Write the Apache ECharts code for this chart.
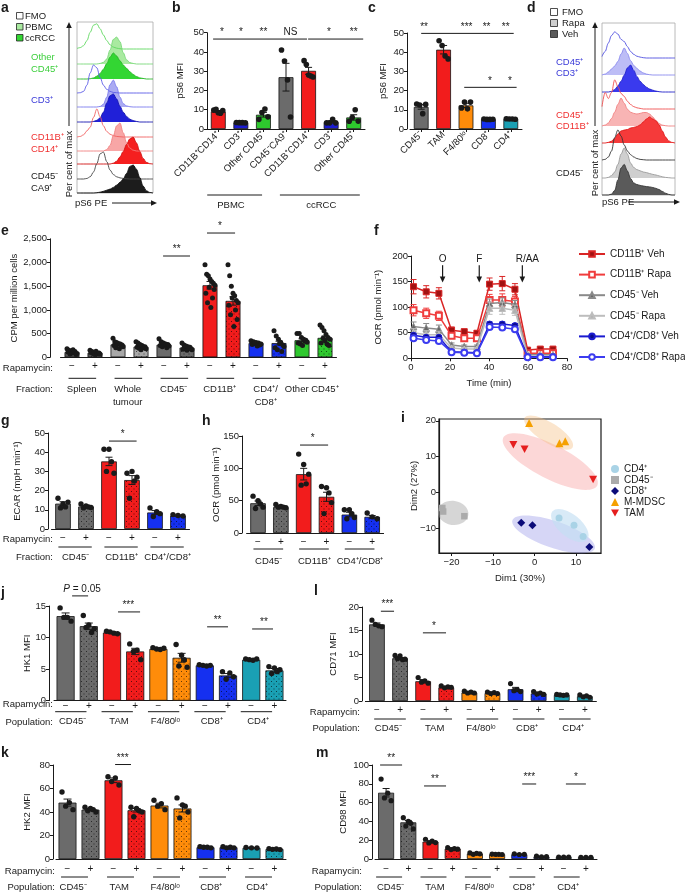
<!DOCTYPE html>
<html><head><meta charset="utf-8"><title>Figure</title>
<script src="https://cdn.jsdelivr.net/npm/echarts@6.0.0/dist/echarts.min.js"></script>
<style>html,body{margin:0;padding:0;background:#fff;}#chart{width:685px;height:892px;}</style>
</head><body><div id="chart"></div>
<script>
// ================= DATA =================
// a: pS6 histograms (per cent of max over pS6 PE bins)
const aOtherFMO  = [0.02,0.05,0.12,0.3,0.6,0.85,0.9,0.72,0.5,0.3,0.15,0.07,0.03,0.01,0,0,0,0,0,0,0,0,0,0];
const aOtherPBMC = [0,0,0,0,0,0,0,0.02,0.06,0.18,0.5,0.88,0.96,0.8,0.4,0.15,0.05,0.02,0,0,0,0,0,0];
const aOtherRCC  = [0,0,0,0,0.01,0.04,0.1,0.2,0.35,0.55,0.78,0.93,0.82,0.65,0.5,0.38,0.26,0.16,0.09,0.04,0.02,0,0,0];
const aCD3FMO    = [0,0.01,0.06,0.28,0.72,1.0,0.9,0.55,0.28,0.13,0.06,0.02,0.01,0,0,0,0,0,0,0,0,0,0,0];
const aCD3PBMC   = [0,0,0,0,0,0,0,0.02,0.1,0.35,0.8,0.96,0.72,0.35,0.12,0.04,0.01,0,0,0,0,0,0,0];
const aCD3RCC    = [0,0,0,0,0,0.02,0.06,0.15,0.35,0.68,0.94,1.0,0.82,0.56,0.35,0.2,0.1,0.05,0.02,0,0,0,0,0];
const aCD11FMO   = [0,0.02,0.08,0.22,0.35,0.7,1.0,0.72,0.4,0.2,0.1,0.05,0.02,0.01,0,0,0,0,0,0,0,0,0,0];
const aCD11PBMC  = [0,0,0,0,0,0,0,0,0,0.05,0.2,0.55,0.9,1.0,0.65,0.3,0.1,0.03,0,0,0,0,0,0];
const aCD11RCC   = [0,0,0,0,0,0,0,0,0,0,0,0.03,0.1,0.25,0.45,0.7,0.9,0.96,0.75,0.45,0.2,0.06,0.01,0];
const aCA9FMO    = [0,0,0,0.02,0.08,0.25,0.55,0.9,0.96,0.62,0.32,0.16,0.08,0.04,0.02,0.01,0,0,0,0,0,0,0,0];
const aCA9RCC    = [0,0,0,0,0,0,0.01,0.03,0.06,0.1,0.14,0.2,0.28,0.38,0.5,0.7,0.95,1.0,0.85,0.55,0.25,0.08,0.02,0];
const aLegend = ['FMO','PBMC','ccRCC'];
// d: pS6 histograms
const dCD3FMO   = [0.05,0.22,0.5,0.75,0.87,0.8,0.62,0.55,0.38,0.22,0.12,0.06,0.03,0.01,0,0,0,0,0,0,0,0,0,0];
const dCD3Rapa  = [0,0.03,0.1,0.2,0.3,0.45,0.7,0.9,0.72,0.48,0.32,0.22,0.13,0.07,0.03,0.01,0,0,0,0,0,0,0,0];
const dCD3Veh   = [0,0,0,0.02,0.08,0.2,0.36,0.56,0.8,0.9,0.72,0.52,0.36,0.25,0.16,0.1,0.06,0.03,0.01,0,0,0,0,0];
const dCD11FMO  = [0.08,0.55,0.35,0.55,0.97,0.75,0.52,0.42,0.26,0.15,0.08,0.04,0.02,0,0,0,0,0,0,0,0,0,0,0];
const dCD11Rapa = [0,0.03,0.1,0.25,0.46,0.72,0.93,0.76,0.56,0.46,0.42,0.4,0.42,0.45,0.45,0.4,0.3,0.18,0.08,0.03,0.01,0,0,0];
const dCD11Veh  = [0,0,0.02,0.06,0.15,0.3,0.4,0.43,0.45,0.5,0.52,0.55,0.6,0.7,0.8,0.87,0.8,0.74,0.6,0.4,0.2,0.07,0.02,0];
const dCD45FMO  = [0,0.02,0.1,0.3,0.75,1.0,0.8,0.5,0.3,0.18,0.1,0.05,0.02,0.01,0,0,0,0,0,0,0,0,0,0];
const dCD45Rapa = [0,0,0.02,0.08,0.2,0.45,0.8,1.0,0.8,0.5,0.35,0.28,0.24,0.2,0.18,0.15,0.12,0.1,0.07,0.04,0.02,0.01,0,0];
const dCD45Veh  = [0,0,0,0.03,0.15,0.5,0.9,1.02,0.8,0.55,0.4,0.35,0.32,0.3,0.28,0.27,0.25,0.22,0.18,0.12,0.06,0.02,0,0];
const dLegend = ['FMO','Rapa','Veh'];

// b: pS6 MFI, human
const bCats  = ['CD11B⁺CD14⁺','CD3⁺','Other CD45⁺','CD45⁻CA9⁺','CD11B⁺CD14⁺','CD3⁺','Other CD45⁺'];
const bMeans = [9.1, 3.3, 7.4, 26.9, 30.2, 3.6, 6.0];
const bSems  = [0.5, 0.1, 1.2, 7.2, 1.8, 0.5, 1.4];
const bDots  = [[9.8,10.2,8.4,8.2,9.6],[3.4,3.3,3.3,3.2],[5.0,8.6,10.4,6.3],[41,35.3,25.5,6.2],[35.5,33.5,28,27.5,27],[3.2,3.2,5.0,3.2],[4.0,6.0,10.0,4.1]];
const bSig   = [[-0.23,3.93,46.7,0,''],[3.98,6.42,46.7,0,''],[0,0,46.7,0.16,'*'],[0,0,46.7,1.0,'*'],[0,0,46.7,2.0,'**'],[0,0,46.7,3.2,'NS'],[0,0,46.7,4.9,'*'],[0,0,46.7,6.0,'**']];
const bGroupLabels = ['PBMC','ccRCC'];

// c: pS6 MFI, mouse
const cCats  = ['CD45⁻','TAM','F4/80ˡᵒ','CD8⁺','CD4⁺'];
const cMeans = [11.5, 41.3, 12.3, 5.1, 5.2];
const cSems  = [1.2, 2.2, 1.1, 0.2, 0.2];
const cDots  = [[13,12.5,8,12.8],[46,43.5,38,36.5],[11,14,10.5,14],[5.2,5,5,5.1],[5.3,5.2,5.2,5.1]];
const cSig   = [[0,4.13,49.8,0,''],[0,0,49.8,0.13,'**'],[0,0,49.8,2.03,'***'],[0,0,49.8,2.92,'**'],[0,0,49.8,3.77,'**'],[1.92,4.26,21.7,0,''],[0,0,21.7,3.07,'*'],[0,0,21.7,3.96,'*']];

// e: glucose uptake, CPM per million cells
const rapaTicks12 = ['−','+','−','+','−','+','−','+','−','+','−','+'];
const eFractions = ['Spleen','Whole\ntumour','CD45⁻','CD11B⁺','CD4⁺/\nCD8⁺','Other CD45⁺'];
const eMeans = [110, 95, 270, 225, 265, 205, 1520, 1190, 300, 300, 360, 410];
const eSems  = [10, 8, 18, 15, 18, 15, 80, 90, 15, 40, 30, 40];
const eDots  = [
  [180,110,150,70,130,90,160,100,120,60,80],
  [150,100,120,80,95,60,130,85,75,90,70],
  [400,250,330,200,310,270,290,180,280,240,260,220],
  [330,210,300,190,270,160,250,230,200,220,180],
  [390,250,330,220,300,260,280,200,270,240],
  [300,170,260,200,240,150,220,190,210,180,160],
  [1950,1350,1750,1150,1720,1480,1650,1050,1600,1250,1560,1430,1520],
  [1950,1100,1720,900,1500,1250,1350,650,1300,1000,1200,800,1150],
  [350,270,330,290,310,240,300,260,280],
  [560,200,450,160,380,290,320,120,260,230],
  [500,300,500,280,420,250,380,340,360,320],
  [680,300,630,400,560,350,480,280,420,250,380]];
const eSig = [[3.96,5.13,2137,4.55,'**'],[5.87,7.09,2622,6.43,'*']];

// f: Seahorse OCR time course
const fTime = [1.3, 7.8, 14.3, 20.8, 27.3, 33.8, 40.3, 46.8, 53.3, 59.8, 66.3, 72.8];
const fNames = ['CD11B⁺ Veh','CD11B⁺ Rapa','CD45⁻ Veh','CD45⁻ Rapa','CD4⁺/CD8⁺ Veh','CD4⁺/CD8⁺ Rapa'];
const fCD11Veh  = [140,130,127,55,52,49,145,146,135,16,18,18];
const fCD11Rapa = [94,88,83,44,39,39,114,114,111,10,10,10];
const fCD45Veh  = [62,59,57,26,23,23,107,109,105,7,7,7];
const fCD45Rapa = [50,46,46,20,18,18,98,98,94,5,5,5];
const fTVeh     = [45,41,41,13,12,11,67,67,64,3,3,3];
const fTRapa    = [39,36,34,12,11,10,61,60,57,2,2,2];
const fCD11VehErr  = [14,12,11,6,5,5,12,14,11,3,3,3];
const fCD11RapaErr = [11,10,9,5,4,4,11,12,10,2,2,2];
const fCD45VehErr  = [9,9,8,4,3,3,9,9,8,2,2,2];
const fCD45RapaErr = [8,8,7,4,3,3,12,12,10,2,2,2];
const fTVehErr     = [4,4,4,2,2,2,4,4,4,1,1,1];
const fTRapaErr    = [4,4,4,2,2,2,4,4,4,1,1,1];
const fInjTime  = [16.2, 35.0, 57.1];
const fInjLabel = ['O','F','R/AA'];

// g: ECAR
const rapaTicks6 = ['−','+','−','+','−','+'];
const ghFractions = ['CD45⁻','CD11B⁺','CD4⁺/CD8⁺'];
const gMeans = [13.2, 11.7, 35.2, 25.5, 8.6, 7.0];
const gSems  = [1.0, 0.5, 2.2, 2.3, 1.0, 0.3];
const gDots  = [[16,11,13,11.5,14],[13,11,12,11.5,11.2],[41.5,30,41.5,35,29],[29,16,30,25,27],[11,6.5,9,8],[7.5,7,6.8]];
const gSig = [[2.0,3.2,45.8,2.6,'*']];
// h: OCR
const hMeans = [46, 40, 91, 56, 28.5, 25];
const hSems  = [3.5, 1.0, 9, 7, 3.5, 2];
const hDots  = [[57,38,50,45,40],[44,40,41,40,39],[122,74,106,76,91],[72,30,70,62,47],[36,22,36,30,24],[31,25,22]];
const hSig = [[1.84,3.07,136,2.4,'*']];

// i: PCA
const iNames = ['CD4⁺','CD45⁻','CD8⁺','M-MDSC','TAM'];
const iCD4  = [[5.9,-7.2],[9.5,-9.2],[11.7,-12.4]];
const iCD45 = [[-22.2,-4.4],[-22.0,-5.4],[-16.9,-6.7]];
const iCD8  = [[-3.2,-8.5],[-0.5,-9.2],[13.2,-15.3]];
const iMDSC = [[-1.3,19.4],[6.0,13.7],[7.4,14.3]];
const iTAM  = [[-5.1,13.3],[-2.4,12.0],[14.1,3.6]];
const iEllCx = [-19.6, 4.6, 8.5, 3.8, 3.4];
const iEllCy = [-5.8, -11.8, -9.3, 8.6, 16.7];
const iEllA  = [3.7, 10.5, 5.4, 12.7, 6.8];
const iEllB  = [2.9, 3.2, 2.7, 4.1, 2.4];
const iEllTilt = [8, 19, 39, 27, 32];

// j, k, l, m: flow MFI
const rapaTicks10 = ['−','+','−','+','−','+','−','+','−','+'];
const populations = ['CD45⁻','TAM','F4/80ˡᵒ','CD8⁺','CD4⁺'];
const jMeans = [13.4, 11.8, 10.8, 7.8, 8.2, 6.8, 5.6, 4.0, 6.5, 4.8];
const jSems  = [0.5, 0.5, 0.1, 0.5, 0.1, 0.7, 0.1, 0.3, 0.05, 0.3];
const jDots  = [[14.7,13.2,13.2,12.6],[13.5,11.6,12,10.8,11.4],[11,10.9,10.7,10.6],[9,7.8,8,6.5],[8.4,8.2,8.1,8.3],[8.9,5.5,7.2,6.5,5.3],[5.7,5.6,5.5,5.6],[4.6,3.4,4.4,3.8],[6.6,6.5,6.4,6.6],[5.4,4.3,5.2,4.6,4.9]];
const jSig = [[0.28,0.97,16.6,0.71,'{i|P} = 0.05'],[2.26,3.21,14.06,2.7,'***'],[6.1,7.0,11.7,6.55,'**'],[8.04,8.94,11.36,8.55,'**']];
const kMeans = [48, 42, 67, 41.5, 45.5, 43, 10, 10, 9.5, 8.5];
const kSems  = [3, 1, 2, 1.5, 2, 3, 0.3, 0.4, 0.2, 0.3];
const kDots  = [[57,45,48,42],[44,41,43,42,40],[70,66,69,63],[44,36,43,41,40],[50,45,47,42],[52,35,46,45,40],[10.5,10,10,9.5],[10.5,9.5,10,9.5],[9.8,9.5,9.3],[8.8,8.2,8.5,8]];
const kSig = [[2.07,2.76,80.4,2.4,'***']];
const lMeans = [16.3, 9.1, 4.2, 2.9, 1.8, 1.7, 2.5, 1.6, 1.3, 1.0];
const lSems  = [0.3, 0.15, 0.35, 0.1, 0.1, 0.1, 0.4, 0.15, 0.05, 0.1];
const lDots  = [[17.2,16.3,16,15.8],[9.7,9.0,9.6,8.8,8.9],[5.0,4.0,4.3,3.8],[3.2,2.8,3.0,2.9],[2.1,1.7,1.9,1.7],[1.9,1.6,1.8,1.6],[3.7,2.2,2.4,2.0],[2.0,1.5,1.7,1.4],[1.4,1.3,1.2,1.3],[1.3,0.9,1.1,0.8]];
const lSig = [[0.17,0.74,19.1,0.45,'***'],[1.99,2.99,14.5,2.47,'*']];
const mMeans = [70.5, 39, 18.5, 11, 5.8, 5, 5, 2.5, 2, 1.8];
const mSems  = [4.5, 2, 1, 0.7, 0.4, 0.2, 0.3, 0.3, 0.1, 0.1];
const mDots  = [[85,65,70,62],[44,35,40,38,32],[21,17,19,17.5],[12,10,11,10.5],[6.5,5,6,5.5],[5.2,5,5,4.8],[5.5,4.8,5],[3,2.2,2.5],[2,2,2],[1.8,1.8,1.8]];
const mSig = [[-0.27,0.72,100,0.23,'**'],[1.71,2.7,77.7,2.2,'**'],[6.13,6.76,79.8,6.45,'***'],[8.1,9.0,79.8,8.55,'*']];

// ================= BUILD =================
const FONT = '"Liberation Sans", Arial, Helvetica, sans-serif';
const INK = '#1a1a1a';
const GRAY = '#6b6b6b', RED = '#f21c1c', ORANGE = '#ff8c0a', BLUE = '#1530f0', TEAL = '#1aa0b4', GREEN = '#2ec82e';
const grid = [], xAxis = [], yAxis = [], series = [], graphic = [];

function addGrid(o) { grid.push(Object.assign({outerBoundsMode:'none', containLabel:false, show:false}, o)); return grid.length - 1; }
function txt(x, y, text, o) {
  o = o || {};
  graphic.push({type:'text', x:x, y:y, rotation:o.rot || 0, silent:true, z:100,
    style:{text:text, fontSize:o.fs || 9.5, fontFamily:FONT, fontWeight:o.fw || 'normal', fill:o.color || INK,
      align:o.align || 'left', verticalAlign:o.va || 'middle', textAlign:o.align || 'left', textVerticalAlign:o.va || 'middle', lineHeight:o.lh || undefined}});
}
function gline(x1, y1, x2, y2, c, w) { graphic.push({type:'line', silent:true, z:100, shape:{x1:x1, y1:y1, x2:x2, y2:y2}, style:{stroke:c || INK, lineWidth:w || 1}}); }
function arrowHead(x, y, dir) {
  let pts;
  if (dir === 'up') pts = [[x - 2.8, y + 6], [x + 2.8, y + 6], [x, y]];
  else if (dir === 'right') pts = [[x - 6, y - 2.8], [x - 6, y + 2.8], [x, y]];
  else pts = [[x - 2.8, y - 6], [x + 2.8, y - 6], [x, y]];
  graphic.push({type:'polygon', silent:true, z:100, shape:{points:pts}, style:{fill:INK}});
}
function makePattern(color) {
  const c = document.createElement('canvas'); c.width = 5; c.height = 5;
  const x = c.getContext('2d'); x.fillStyle = color; x.fillRect(0, 0, 5, 5);
  x.fillStyle = 'rgba(0,0,0,0.6)'; x.fillRect(1, 1, 1, 1); x.fillRect(3.5, 3.5, 1, 1);
  return {image:c, repeat:'repeat'};
}
function fxy(api, xv, yv) { const b = api.coord([0, yv]); const bw = api.size([1, 0])[0]; return [b[0] + xv * bw, b[1]]; }

function sigSeries(xi, yi, sigs, fs) {
  return {type:'custom', xAxisIndex:xi, yAxisIndex:yi, silent:true, animation:false, z:6,
    data:sigs.map(s => [0, s[2]]),
    renderItem:(params, api) => {
      const s = sigs[params.dataIndex];
      const a = fxy(api, s[0], s[2]), b = fxy(api, s[1], s[2]), c = fxy(api, s[3], s[2]);
      const ch = [];
      if (s[1] > s[0]) ch.push({type:'line', shape:{x1:a[0], y1:a[1], x2:b[0], y2:b[1]}, style:{stroke:INK, lineWidth:1}});
      if (s[4]) ch.push({type:'text', x:c[0], y:c[1] - 1.5, style:{text:s[4], fontSize:fs || 10, fontFamily:FONT, fill:INK,
        align:'center', verticalAlign:'bottom', textAlign:'center', textVerticalAlign:'bottom', rich:{i:{fontStyle:'italic', fontSize:fs || 10, fontFamily:FONT}}}});
      return {type:'group', children:ch};
    }};
}
function groupSeries(xi, yi, groups, labels, ulDy, lblDy) {
  return {type:'custom', xAxisIndex:xi, yAxisIndex:yi, silent:true, animation:false, z:6,
    data:groups.map(() => [0, 0]),
    renderItem:(params, api) => {
      const g = groups[params.dataIndex];
      const a = fxy(api, g[0], 0), b = fxy(api, g[1], 0), c = fxy(api, g[2], 0);
      return {type:'group', children:[
        {type:'line', shape:{x1:a[0], y1:a[1] + ulDy, x2:b[0], y2:b[1] + ulDy}, style:{stroke:INK, lineWidth:1}},
        {type:'text', x:c[0], y:c[1] + lblDy - 6.5, style:{text:labels[params.dataIndex], fontSize:9.5, fontFamily:FONT, fill:INK,
          align:'center', verticalAlign:'top', textAlign:'center', textVerticalAlign:'top', lineHeight:13}}]};
    }};
}
function pairGroups(n, from, to, at) { const r = []; for (let k = 0; k < n; k++) r.push([2 * k + from, 2 * k + to, 2 * k + at]); return r; }

function barPanel(p) {
  const gi = addGrid({left:p.left, top:p.top, width:p.width, height:p.height});
  const xi = xAxis.length, yi = yAxis.length;
  xAxis.push({type:'category', gridIndex:gi, data:p.ticks.map((t, i) => String(i)), boundaryGap:true,
    axisLine:{show:true, onZero:false, lineStyle:{color:INK, width:1}},
    axisTick:{show:!!p.xTicks, alignWithLabel:true, length:3, lineStyle:{color:INK, width:1}},
    axisLabel:{show:true, interval:0, fontSize:p.xfs || 10, fontFamily:FONT, color:INK, margin:p.xMargin, rotate:p.rotate || 0,
      hideOverlap:false, formatter:(v, i) => p.ticks[i]},
    splitLine:{show:false}});
  yAxis.push({type:'value', gridIndex:gi, min:0, max:p.max, interval:p.interval, offset:p.yOffset || 0,
    splitLine:{show:false},
    axisLine:{show:true, onZero:false, lineStyle:{color:INK, width:1}},
    axisTick:{show:true, length:3, lineStyle:{color:INK, width:1}},
    axisLabel:{fontSize:9.5, fontFamily:FONT, color:INK, margin:3, formatter:p.yFmt || (v => String(v))},
    name:p.yName, nameLocation:'middle', nameGap:p.nameGap, nameMoveOverlap:false,
    nameTextStyle:{fontSize:9.5, fontFamily:FONT, color:INK}});
  series.push({type:'bar', xAxisIndex:xi, yAxisIndex:yi, barWidth:p.barWidth, silent:true, animation:false, z:2,
    data:p.means.map((v, i) => ({value:v, itemStyle:{color:p.dotted[i] ? makePattern(p.colors[i]) : p.colors[i], borderColor:'#141414', borderWidth:0.8}}))});
  series.push({type:'custom', xAxisIndex:xi, yAxisIndex:yi, silent:true, animation:false, z:3,
    data:p.means.map((m, i) => [i, m]),
    renderItem:(params, api) => {
      const i = params.dataIndex, m = p.means[i], s = p.sems[i];
      const a = api.coord([i, m + s]), b = api.coord([i, Math.max(0, m - s)]); const w = p.cap || 3.5;
      const st = {stroke:INK, lineWidth:1};
      return {type:'group', children:[
        {type:'line', shape:{x1:a[0], y1:a[1], x2:b[0], y2:b[1]}, style:st},
        {type:'line', shape:{x1:a[0] - w, y1:a[1], x2:a[0] + w, y2:a[1]}, style:st},
        {type:'line', shape:{x1:b[0] - w, y1:b[1], x2:b[0] + w, y2:b[1]}, style:st}]};
    }});
  const flat = [];
  p.dots.forEach((arr, i) => arr.forEach((v, j) => flat.push([i, v, j, arr.length])));
  series.push({type:'custom', xAxisIndex:xi, yAxisIndex:yi, silent:true, animation:false, z:4,
    data:flat.map(d => [d[0], d[1]]),
    renderItem:(params, api) => {
      const d = flat[params.dataIndex];
      const c = api.coord([d[0], d[1]]);
      const dx = d[3] > 1 ? (d[2] / (d[3] - 1) - 0.5) * p.spread : 0;
      return {type:'circle', shape:{cx:c[0] + dx, cy:c[1], r:p.dotR || 2.6}, style:{fill:INK}};
    }});
  if (p.sig) series.push(sigSeries(xi, yi, p.sig, p.sigFs));
  if (p.groups) series.push(groupSeries(xi, yi, p.groups, p.groupLabels, p.ulDy, p.lblDy));
  return {xi:xi, yi:yi};
}

function histPanel(box, rows, H) {
  const gf = addGrid({left:box.l, top:box.t, width:box.w, height:box.h, show:true, borderColor:'#a8a8a8', borderWidth:0.8, backgroundColor:'rgba(0,0,0,0)'});
  xAxis.push({type:'value', gridIndex:gf, show:false, min:0, max:1});
  yAxis.push({type:'value', gridIndex:gf, show:false, min:0, max:1});
  rows.forEach(r => {
    const g = addGrid({left:box.l, top:r.base - H, width:box.w, height:H});
    const xi = xAxis.length, yi = yAxis.length;
    xAxis.push({type:'value', gridIndex:g, show:false, min:0, max:r.data.length - 1});
    yAxis.push({type:'value', gridIndex:g, show:false, min:0, max:1});
    const s = {type:'line', xAxisIndex:xi, yAxisIndex:yi, data:r.data.map((v, i) => [i, v]), smooth:0.35, smoothMonotone:'x',
      showSymbol:false, symbol:'none', clip:false, silent:true, animation:false, z:2,
      lineStyle:{color:r.line, width:r.lw || 0.9, type:r.dash ? 'dotted' : 'solid'}};
    if (r.fill) s.areaStyle = {color:r.fill, opacity:1};
    series.push(s);
  });
}

// ---------- panel a ----------
histPanel({l:77, t:22, w:76, h:171}, [
  {data:aOtherFMO, base:49, line:'#5fd85f'},
  {data:aOtherPBMC, base:64, line:'#79d879', fill:'#a9eaa0'},
  {data:aOtherRCC, base:79, line:'#25b525', fill:'#33d633'},
  {data:aCD3FMO, base:93, line:'#5a5ae6'},
  {data:aCD3PBMC, base:107, line:'#7b7bee', fill:'#ababf3'},
  {data:aCD3RCC, base:122, line:'#1515b0', fill:'#2020d8'},
  {data:aCD11FMO, base:137, line:'#f06060'},
  {data:aCD11PBMC, base:151, line:'#f08080', fill:'#f8a6a6'},
  {data:aCD11RCC, base:164, line:'#d01010', fill:'#f51f1f'},
  {data:aCA9FMO, base:179, line:'#444'},
  {data:aCA9RCC, base:193, line:'#111', fill:'#1c1c1c'}], 28);
[['#fff'], ['#a9eaa0'], ['#33d633']].forEach((c, i) => {
  graphic.push({type:'rect', silent:true, z:100, shape:{x:16.5, y:12.5 + 11 * i, width:6.5, height:6.5}, style:{fill:c[0], stroke:'#222', lineWidth:0.8}});
  txt(25, 16 + 11 * i, aLegend[i], {fs:9.5});
});
txt(31, 57, 'Other', {color:'#3ccf3c'}); txt(31, 69, 'CD45⁺', {color:'#3ccf3c'});
txt(31, 100, 'CD3⁺', {color:'#3a3ad8'});
txt(31, 137, 'CD11B⁺', {color:'#f03030'}); txt(31, 149, 'CD14⁺', {color:'#f03030'});
txt(31, 176, 'CD45⁻'); txt(31, 188, 'CA9⁺');
gline(69, 126, 69, 28); arrowHead(69, 22, 'up');
txt(69, 164, 'Per cent of max', {rot:Math.PI / 2, align:'center', fs:9.5});
txt(75, 203, 'pS6 PE', {fs:9.5}); gline(112, 203, 152, 203); arrowHead(157, 203, 'right');

// ---------- panel d ----------
histPanel({l:602, t:23, w:73, h:172}, [
  {data:dCD3FMO, base:58, line:'#5050e0'},
  {data:dCD3Rapa, base:75, line:'#8a8aee', fill:'#bdbdf6'},
  {data:dCD3Veh, base:92, line:'#2020c8', fill:'#3a3aee'},
  {data:dCD11FMO, base:109, line:'#f05050'},
  {data:dCD11Rapa, base:126, line:'#f08080', fill:'#f8b4b4'},
  {data:dCD11Veh, base:143, line:'#e01515', fill:'#f53a3a'},
  {data:dCD45FMO, base:160, line:'#333'},
  {data:dCD45Rapa, base:178, line:'#9a9a9a', fill:'#cfcfcf'},
  {data:dCD45Veh, base:195, line:'#333', fill:'#5a5a5a'}], 30);
[['#fff'], ['#cfcfcf'], ['#5a5a5a']].forEach((c, i) => {
  graphic.push({type:'rect', silent:true, z:100, shape:{x:550.5, y:8.5 + 11 * i, width:7, height:7}, style:{fill:c[0], stroke:'#222', lineWidth:0.8}});
  txt(562, 12 + 11 * i, dLegend[i], {fs:9.5});
});
txt(556, 62, 'CD45⁺', {color:'#3a3ad8'}); txt(556, 73, 'CD3⁺', {color:'#3a3ad8'});
txt(556, 115, 'CD45⁺', {color:'#f03030'}); txt(556, 126, 'CD11B⁺', {color:'#f03030'});
txt(556, 173, 'CD45⁻');
gline(595, 126, 595, 28); arrowHead(595, 22, 'up');
txt(595, 163, 'Per cent of max', {rot:Math.PI / 2, align:'center', fs:9.5});
txt(602, 202, 'pS6 PE', {fs:9.5}); gline(628, 202, 674, 202); arrowHead(680, 202, 'right');

// ---------- panel b ----------
barPanel({left:207, top:32.7, width:158, height:96.3, max:50, interval:10, yName:'pS6 MFI', nameGap:22,
  ticks:bCats, rotate:45, xfs:9.5, xMargin:4, xTicks:true, barWidth:'66%',
  colors:[RED, '#1b1bd1', GREEN, GRAY, RED, '#1b1bd1', GREEN], dotted:[0,0,0,0,0,0,0],
  means:bMeans, sems:bSems, dots:bDots, spread:9, dotR:2.8, cap:3.5, sig:bSig,
  groups:[[-0.49, 1.94, 0.56], [2.73, 6.27, 4.56]], groupLabels:bGroupLabels, ulDy:66, lblDy:76});

// ---------- panel c ----------
barPanel({left:410, top:33, width:112, height:96, max:50, interval:10, yOffset:3, yName:'pS6 MFI', nameGap:19,
  ticks:cCats, rotate:45, xfs:9.5, xMargin:4, xTicks:true, barWidth:'66%',
  colors:[GRAY, RED, ORANGE, BLUE, TEAL], dotted:[0,0,0,0,0],
  means:cMeans, sems:cSems, dots:cDots, spread:9, dotR:2.8, cap:3.5, sig:cSig});

// ---------- panel e ----------
barPanel({left:60.5, top:238.8, width:276, height:118.5, max:2500, interval:500, yOffset:10.5,
  yName:'CPM per million cells', nameGap:31, yFmt:v => v.toLocaleString('en-US'),
  ticks:rapaTicks12, xMargin:4, barWidth:'65%',
  colors:['#555','#555','#a8a8a8','#a8a8a8',GRAY,GRAY,RED,RED,BLUE,BLUE,GREEN,GREEN], dotted:[0,1,0,1,0,1,0,1,0,1,0,1],
  means:eMeans, sems:eSems, dots:eDots, spread:10, dotR:2.5, cap:3.5, sig:eSig,
  groups:pairGroups(6, -0.15, 1.05, 0.42), groupLabels:eFractions, ulDy:21, lblDy:32});
txt(53, 368, 'Rapamycin:', {align:'right'}); txt(53, 389, 'Fraction:', {align:'right'});

// ---------- panel f ----------
(function () {
  const gi = addGrid({left:411, top:256, width:156, height:102.3});
  const xi = xAxis.length, yi = yAxis.length;
  const axl = {show:true, onZero:false, lineStyle:{color:INK, width:1}};
  xAxis.push({type:'value', gridIndex:gi, min:0, max:80, interval:20, splitLine:{show:false}, axisLine:axl,
    axisTick:{show:true, length:3, lineStyle:{color:INK}}, axisLabel:{fontSize:9.5, fontFamily:FONT, color:INK, margin:4},
    name:'Time (min)', nameLocation:'middle', nameGap:20, nameTextStyle:{fontSize:9.5, fontFamily:FONT, color:INK}});
  yAxis.push({type:'value', gridIndex:gi, min:0, max:200, interval:50, splitLine:{show:false}, axisLine:axl,
    axisTick:{show:true, length:3, lineStyle:{color:INK}}, axisLabel:{fontSize:9.5, fontFamily:FONT, color:INK, margin:3},
    name:'OCR (pmol min⁻¹)', nameLocation:'middle', nameGap:28, nameMoveOverlap:false, nameTextStyle:{fontSize:9.5, fontFamily:FONT, color:INK}});
  const defs = [
    {v:fCD11Veh, e:fCD11VehErr, line:'#d92525', fill:'#a11212', sym:'rect', size:6},
    {v:fCD11Rapa, e:fCD11RapaErr, line:'#f03c3c', fill:'#f03c3c', sym:'emptyRect', size:6},
    {v:fCD45Veh, e:fCD45VehErr, line:'#8a8a8a', fill:'#666', sym:'triangle', size:6.5},
    {v:fCD45Rapa, e:fCD45RapaErr, line:'#bdbdbd', fill:'#b0b0b0', sym:'triangle', size:6.5},
    {v:fTVeh, e:fTVehErr, line:'#1a1ad0', fill:'#0c0c8c', sym:'circle', size:6},
    {v:fTRapa, e:fTRapaErr, line:'#3c3cf0', fill:'#3c3cf0', sym:'emptyCircle', size:6}];
  defs.forEach((d, k) => {
    series.push({type:'custom', xAxisIndex:xi, yAxisIndex:yi, silent:true, animation:false, z:2 + k,
      data:fTime.map((t, i) => [t, d.v[i]]),
      renderItem:(params, api) => {
        const i = params.dataIndex; const a = api.coord([fTime[i], d.v[i] + d.e[i]]), b = api.coord([fTime[i], Math.max(0, d.v[i] - d.e[i])]);
        const st = {stroke:d.line, lineWidth:1};
        return {type:'group', children:[
          {type:'line', shape:{x1:a[0], y1:a[1], x2:b[0], y2:b[1]}, style:st},
          {type:'line', shape:{x1:a[0] - 3, y1:a[1], x2:a[0] + 3, y2:a[1]}, style:st},
          {type:'line', shape:{x1:b[0] - 3, y1:b[1], x2:b[0] + 3, y2:b[1]}, style:st}]};
      }});
    series.push({type:'line', name:fNames[k], xAxisIndex:xi, yAxisIndex:yi, silent:true, animation:false, z:2 + k,
      data:fTime.map((t, i) => [t, d.v[i]]), symbol:d.sym, symbolSize:d.size, showSymbol:true,
      lineStyle:{color:d.line, width:1.5}, itemStyle:{color:d.fill, borderColor:d.line, borderWidth:1}});
  });
  series.push({type:'custom', xAxisIndex:xi, yAxisIndex:yi, silent:true, animation:false, z:10,
    data:fInjTime.map(t => [t, 182]),
    renderItem:(params, api) => {
      const i = params.dataIndex; const a = api.coord([fInjTime[i], 182]), b = api.coord([fInjTime[i], 150]), c = api.coord([fInjTime[i], 193]);
      const dx = i === 2 ? 5 : 0;
      return {type:'group', children:[
        {type:'line', shape:{x1:a[0], y1:a[1], x2:b[0], y2:b[1] - 4}, style:{stroke:INK, lineWidth:1.2}},
        {type:'polygon', shape:{points:[[b[0] - 2.8, b[1] - 5], [b[0] + 2.8, b[1] - 5], [b[0], b[1] + 1]]}, style:{fill:INK}},
        {type:'text', x:c[0] + dx, y:c[1], style:{text:fInjLabel[i], fontSize:10, fontFamily:FONT, fill:INK, align:'center', verticalAlign:'middle', textAlign:'center', textVerticalAlign:'middle'}}]};
    }});
})();

// ---------- panel g ----------
barPanel({left:51.5, top:433, width:138, height:96, max:50, interval:10, yOffset:3.5,
  yName:'ECAR (mpH min⁻¹)', nameGap:26, ticks:rapaTicks6, xMargin:4, barWidth:'68%',
  colors:[GRAY,GRAY,RED,RED,BLUE,BLUE], dotted:[0,1,0,1,0,1],
  means:gMeans, sems:gSems, dots:gDots, spread:10, dotR:2.7, cap:3.5, sig:gSig,
  groups:pairGroups(3, -0.2, 1.25, 0.55), groupLabels:ghFractions, ulDy:18, lblDy:28});
txt(53, 539, 'Rapamycin:', {align:'right'}); txt(53, 557, 'Fraction:', {align:'right'});

// ---------- panel h ----------
barPanel({left:246.6, top:436, width:137, height:97, max:150, interval:50, yOffset:4.6,
  yName:'OCR (pmol min⁻¹)', nameGap:21, ticks:rapaTicks6, xMargin:4, barWidth:'68%',
  colors:[GRAY,GRAY,RED,RED,BLUE,BLUE], dotted:[0,1,0,1,0,1],
  means:hMeans, sems:hSems, dots:hDots, spread:10, dotR:2.7, cap:3.5, sig:hSig,
  groups:pairGroups(3, -0.2, 1.1, 0.47), groupLabels:ghFractions, ulDy:16, lblDy:28});

// ---------- panel i ----------
(function () {
  const gi = addGrid({left:439, top:419, width:162, height:134, show:true, borderColor:INK, borderWidth:1.2, backgroundColor:'rgba(0,0,0,0)'});
  const xi = xAxis.length, yi = yAxis.length;
  const minus = v => (v < 0 ? '−' + (-v) : String(v));
  xAxis.push({type:'value', gridIndex:gi, min:-23, max:16, splitLine:{show:false},
    axisLine:{show:true, onZero:false, lineStyle:{color:INK, width:1.2}}, axisTick:{show:true, length:3, lineStyle:{color:INK}},
    axisLabel:{fontSize:9.5, fontFamily:FONT, color:INK, margin:4, showMinLabel:false, showMaxLabel:false, formatter:minus},
    name:'Dim1 (30%)', nameLocation:'middle', nameGap:20, nameTextStyle:{fontSize:9.5, fontFamily:FONT, color:INK}});
  yAxis.push({type:'value', gridIndex:gi, min:-17, max:20.5, splitLine:{show:false},
    axisLine:{show:true, onZero:false, lineStyle:{color:INK, width:1.2}}, axisTick:{show:true, length:3, lineStyle:{color:INK}},
    axisLabel:{fontSize:9.5, fontFamily:FONT, color:INK, margin:3, showMinLabel:false, showMaxLabel:false, formatter:minus},
    name:'Dim2 (27%)', nameLocation:'middle', nameGap:20, nameMoveOverlap:false, nameTextStyle:{fontSize:9.5, fontFamily:FONT, color:INK}});
  const ellColors = ['rgba(165,165,165,0.45)', 'rgba(120,120,225,0.3)', 'rgba(195,222,242,0.65)', 'rgba(245,140,140,0.35)', 'rgba(245,190,130,0.4)'];
  series.push({type:'custom', xAxisIndex:xi, yAxisIndex:yi, silent:true, animation:false, z:1,
    data:iEllCx.map((x, i) => [x, iEllCy[i]]),
    renderItem:(params, api) => {
      const i = params.dataIndex; const c = api.coord([iEllCx[i], iEllCy[i]]);
      const rx = api.size([iEllA[i], 0])[0], ry = api.size([iEllB[i], 0])[0];
      return {type:'ellipse', x:c[0], y:c[1], rotation:-iEllTilt[i] * Math.PI / 180, shape:{cx:0, cy:0, rx:rx, ry:ry}, style:{fill:ellColors[i]}};
    }});
  const pts = [
    {d:iCD4, sym:'circle', c:'#a9d3e6', s:7},
    {d:iCD45, sym:'rect', c:'#ababab', s:6.5},
    {d:iCD8, sym:'diamond', c:'#0b0b78', s:8},
    {d:iMDSC, sym:'triangle', c:'#f5a000', s:8},
    {d:iTAM, sym:'path://M0,0 L10,0 L5,9 Z', c:'#e51e1e', s:[8, 7.5]}];
  pts.forEach((p, k) => series.push({type:'scatter', name:iNames[k], xAxisIndex:xi, yAxisIndex:yi, silent:true, animation:false, z:3,
    data:p.d, symbol:p.sym, symbolSize:p.s, itemStyle:{color:p.c, opacity:1}}));
})();

// ---------- panel j ----------
const JKLMcolors = [GRAY,GRAY,RED,RED,ORANGE,ORANGE,BLUE,BLUE,TEAL,TEAL];
const JKLMdotted = [0,1,0,1,0,1,0,1,0,1];
barPanel({left:54, top:606, width:232, height:94.7, max:15, interval:5, yOffset:5,
  yName:'HK1 MFI', nameGap:17, ticks:rapaTicks10, xMargin:1, barWidth:'78%',
  colors:JKLMcolors, dotted:JKLMdotted, means:jMeans, sems:jSems, dots:jDots, spread:11, dotR:2.7, cap:4, sig:jSig,
  groups:pairGroups(5, -0.45, 0.9, 0.3), groupLabels:populations, ulDy:11, lblDy:21});
txt(53, 704, 'Rapamycin:', {align:'right'}); txt(53, 722, 'Population:', {align:'right'});

// ---------- panel l ----------
barPanel({left:365.4, top:607, width:231, height:94, max:20, interval:5, yOffset:3.4,
  yName:'CD71 MFI', nameGap:24, ticks:rapaTicks10, xMargin:4, barWidth:'68%',
  colors:JKLMcolors, dotted:JKLMdotted, means:lMeans, sems:lSems, dots:lDots, spread:10, dotR:2.6, cap:3.5, sig:lSig,
  groups:pairGroups(5, -0.12, 1.25, 0.5), groupLabels:populations, ulDy:18, lblDy:27});
txt(360, 712, 'Rapamycin:', {align:'right'}); txt(360, 728, 'Population:', {align:'right'});

// ---------- panel k ----------
barPanel({left:56, top:765, width:230, height:94, max:80, interval:20, yOffset:3,
  yName:'HK2 MFI', nameGap:21, ticks:rapaTicks10, xMargin:5, barWidth:'78%',
  colors:JKLMcolors, dotted:JKLMdotted, means:kMeans, sems:kSems, dots:kDots, spread:11, dotR:2.7, cap:4, sig:kSig,
  groups:pairGroups(5, -0.28, 0.89, 0.25), groupLabels:populations, ulDy:18, lblDy:28});
txt(55, 871, 'Rapamycin:', {align:'right'}); txt(55, 887, 'Population:', {align:'right'});

// ---------- panel m ----------
barPanel({left:375, top:765, width:222, height:94, max:100, interval:20, yOffset:3,
  yName:'CD98 MFI', nameGap:24, ticks:rapaTicks10, xMargin:5, barWidth:'72%',
  colors:JKLMcolors, dotted:JKLMdotted, means:mMeans, sems:mSems, dots:mDots, spread:10, dotR:2.6, cap:3.5, sig:mSig,
  groups:pairGroups(5, -0.45, 0.72, 0.2), groupLabels:populations, ulDy:18, lblDy:28});
txt(362, 871, 'Rapamycin:', {align:'right'}); txt(362, 887, 'Population:', {align:'right'});

// ---------- panel letters ----------
[['a',1,8],['b',172,8],['c',368,8],['d',527,8],['e',1,231],['f',374,231],['g',1,421],['h',202,421],
 ['i',401,418],['j',1,593],['l',314,591],['k',1,753],['m',316,753]].forEach(l => txt(l[1], l[2], l[0], {fs:14, fw:'bold'}));

const option = {
  animation:false, backgroundColor:'#ffffff', textStyle:{fontFamily:FONT},
  grid:grid, xAxis:xAxis, yAxis:yAxis, series:series, graphic:{elements:graphic},
  legend:[
    {data:fNames, orient:'vertical', left:578, top:248, itemWidth:26, itemHeight:7, itemGap:8.6, selectedMode:false, padding:0,
      textStyle:{fontSize:10, fontFamily:FONT, color:INK, lineHeight:12}},
    {data:iNames, orient:'vertical', left:611, top:463.5, itemWidth:8, itemHeight:8, itemGap:0, selectedMode:false, padding:0,
      textStyle:{fontSize:10, fontFamily:FONT, color:INK, lineHeight:11}}]
};
const chart = echarts.init(document.getElementById('chart'), null, {renderer:'canvas', width:685, height:892});
chart.setOption(option);
</script></body></html>
